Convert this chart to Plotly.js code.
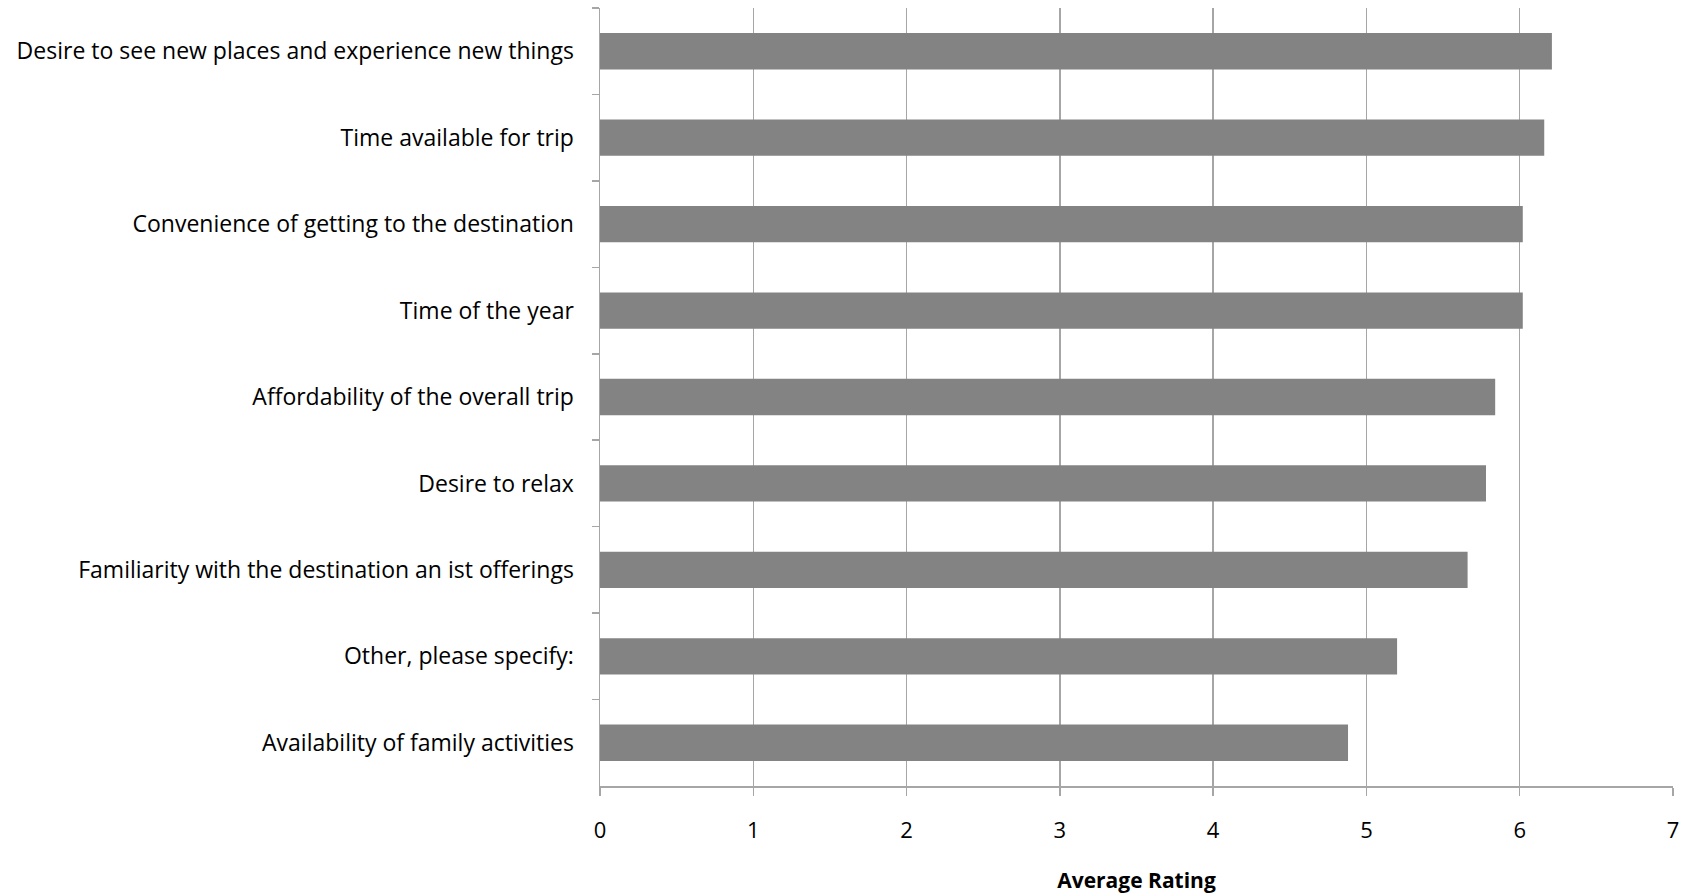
<!DOCTYPE html>
<html>
<head>
<meta charset="utf-8">
<script src="https://cdn.plot.ly/plotly-3.0.1.min.js"></script>
<style>html,body{margin:0;padding:0;background:#fff;}#chart{width:1694px;height:896px;}</style>
</head>
<body>
<div id="chart"></div>
<script>
const categories = [
  "Desire to see new places and experience new things",
  "Time available for trip",
  "Convenience of getting to the destination",
  "Time of the year",
  "Affordability of the overall trip",
  "Desire to relax",
  "Familiarity with the destination an ist offerings",
  "Other, please specify:",
  "Availability of family activities"
];
const ratings = [6.21, 6.16, 6.02, 6.02, 5.84, 5.78, 5.66, 5.20, 4.88];
const xTicks = [0, 1, 2, 3, 4, 5, 6, 7];

const trace = {
  type: 'bar',
  orientation: 'h',
  y: categories,
  x: ratings,
  marker: {color: '#838383', line: {width: 0}},
  hoverinfo: 'x+y'
};

const layout = {
  width: 1694,
  height: 896,
  margin: {l: 600, r: 21, t: 8, b: 110},
  paper_bgcolor: '#fff',
  plot_bgcolor: '#fff',
  font: {family: 'Open Sans, sans-serif', color: '#000', size: 20},
  bargap: 0.58,
  showlegend: false,
  xaxis: {
    range: [0, 7],
    tickvals: xTicks,
    ticktext: xTicks.map(String),
    showgrid: true,
    gridcolor: '#a6a6a6',
    gridwidth: 1.5,
    zeroline: false,
    showline: true,
    linecolor: '#a6a6a6',
    linewidth: 1.5,
    ticks: 'outside',
    ticklen: 8,
    tickcolor: '#a6a6a6',
    tickwidth: 1.5,
    ticklabelstandoff: 16,
    tickfont: {size: 22},
    title: {text: '<b>Average Rating</b>', font: {size: 21}, standoff: 30}
  },
  yaxis: {
    type: 'category',
    autorange: 'reversed',
    showgrid: false,
    zeroline: false,
    showline: true,
    linecolor: '#a6a6a6',
    linewidth: 1.5,
    ticks: 'outside',
    tickson: 'boundaries',
    ticklen: 7,
    tickcolor: '#a6a6a6',
    tickwidth: 1.5,
    ticklabelstandoff: 20,
    tickfont: {size: 23}
  }
};

Plotly.newPlot('chart', [trace], layout, {displayModeBar: false, staticPlot: true});
</script>
</body>
</html>
